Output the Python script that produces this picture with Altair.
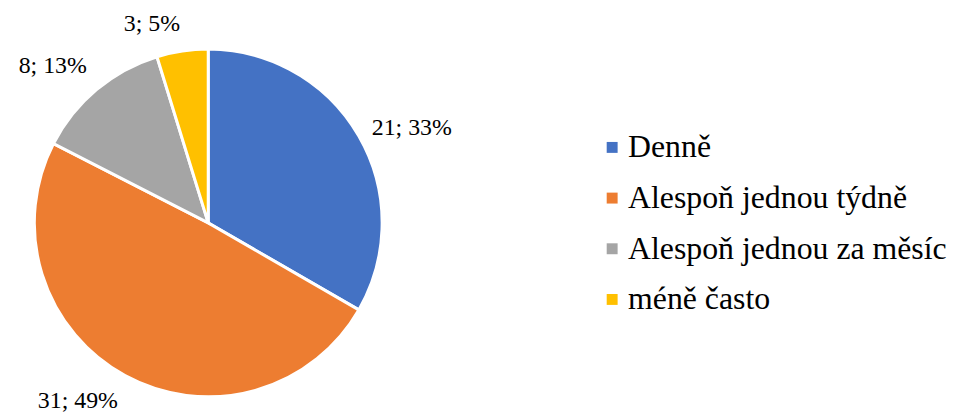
import altair as alt
import pandas as pd
import numpy as np

categories = ["Denně", "Alespoň jednou týdně", "Alespoň jednou za měsíc", "méně často"]
counts = [21, 31, 8, 3]
percents = [33, 49, 13, 5]
colors = ["#4472C4", "#ED7D31", "#A5A5A5", "#FFC000"]

df = pd.DataFrame({"cat": categories, "count": counts, "pct": percents})
df["order"] = range(len(df))
df["label"] = [f"{c}; {p}%" for c, p in zip(counts, percents)]
# mid-angle of each slice (clockwise from 12 o'clock) to choose text anchoring
tot = df["count"].sum()
mid = (df["count"].cumsum() - df["count"] / 2) / tot * 2 * np.pi
df["side"] = np.where(np.sin(mid) >= 0, "right", "left")
df["vert"] = np.where(np.cos(mid) > 0.6, "top", np.where(np.cos(mid) < -0.6, "bottom", "mid"))

FONT = "Times New Roman"
CX, CY, R = 201.5, 215, 175

base = alt.Chart(df).encode(
    theta=alt.Theta("count:Q", stack=True),
    order=alt.Order("order:Q"),
    x=alt.value(CX),
    y=alt.value(CY),
)

pie = base.mark_arc(outerRadius=R, stroke="white", strokeWidth=3).encode(
    color=alt.Color(
        "cat:N",
        sort=categories,
        scale=alt.Scale(domain=categories, range=colors),
        legend=alt.Legend(
            title=None,
            orient="none",
            legendX=592,
            legendY=123,
            symbolType="square",
            symbolSize=121,
            symbolStrokeWidth=0,
            labelFont=FONT,
            labelFontSize=32,
            labelColor="#000000",
            labelOffset=0,
            labelLimit=400,
            rowPadding=19,
            padding=0,
        ),
    )
)

def text_layer(cond, align, baseline):
    return base.mark_text(
        radius=R + 15, align=align, baseline=baseline, font=FONT, fontSize=24, color="#000000"
    ).encode(text=alt.condition(cond, "label:N", alt.value("")))

labels = [
    text_layer("datum.side == 'right' && datum.vert == 'mid'", "left", "middle"),
    text_layer("datum.side == 'right' && datum.vert == 'top'", "left", "bottom"),
    text_layer("datum.side == 'right' && datum.vert == 'bottom'", "left", "top"),
    text_layer("datum.side == 'left' && datum.vert == 'mid'", "right", "middle"),
    text_layer("datum.side == 'left' && datum.vert == 'top'", "right", "bottom"),
    text_layer("datum.side == 'left' && datum.vert == 'bottom'", "right", "top"),
]

chart = alt.layer(pie, *labels).properties(
    width=950, height=408, padding=0, autosize="none"
).configure_view(stroke=None)

chart.save("out.html", embed_options={"renderer": "svg", "actions": False})
